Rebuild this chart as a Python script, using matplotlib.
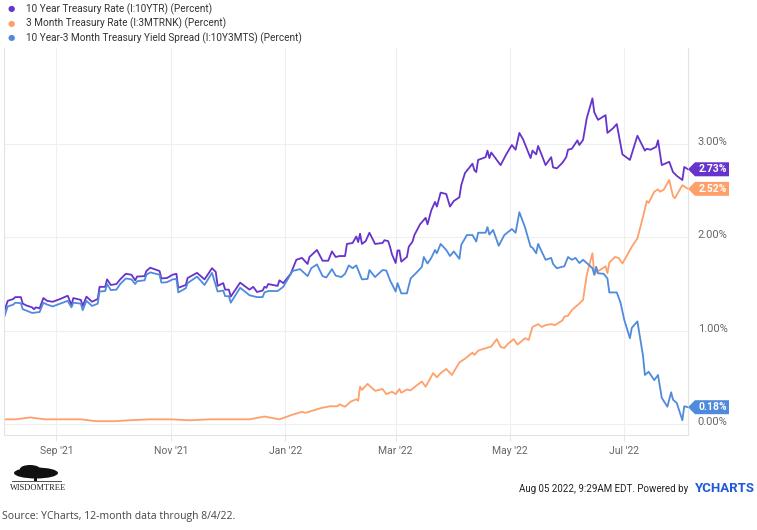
import matplotlib
matplotlib.use("Agg")
import matplotlib.pyplot as plt
import matplotlib.dates as mdates
from matplotlib.patches import Polygon, Ellipse, Rectangle
from matplotlib.transforms import IdentityTransform, ScaledTranslation
import pandas as pd

# Datos (días desde 2021-08-04, valores en %)
inicio = pd.Timestamp("2021-08-04")

dias_10y = [0, 2, 5, 6, 9, 10, 12, 15, 16, 17, 19, 21, 23, 26, 30, 34, 36, 37, 41, 42,
            44, 47, 50, 51, 54, 55, 57, 60, 62, 65, 68, 70, 71, 75, 76, 78, 83, 84, 87, 90,
            92, 93, 97, 98, 103, 107, 111, 113, 114, 117, 118, 120, 121, 126, 131, 133, 135, 138, 139, 140,
            141, 146, 147, 149, 153, 156, 159, 162, 163, 167, 170, 173, 175, 177, 179, 182, 183, 186, 188, 189,
            190, 191, 193, 195, 198, 202, 203, 205, 206, 207, 209, 210, 211, 212, 215, 216, 218, 219, 222, 225,
            226, 228, 230, 231, 233, 236, 238, 240, 243, 244, 246, 250, 251, 252, 253, 257, 258, 259, 260, 265,
            268, 271, 273, 275, 277, 281, 282, 284, 285, 287, 289, 292, 293, 295, 298, 300, 301, 303, 306, 307,
            309, 311, 314, 315, 317, 321, 322, 325, 327, 330, 334, 338, 340, 342, 343, 345, 348, 349, 351, 355,
            357, 359, 362, 363, 365]
tasa_10y = [1.20, 1.32, 1.34, 1.36, 1.36, 1.29, 1.27, 1.25, 1.23, 1.25, 1.24, 1.35, 1.32, 1.31, 1.34, 1.375, 1.275, 1.35, 1.33, 1.265,
            1.365, 1.31, 1.34, 1.47, 1.47, 1.55, 1.49, 1.50, 1.55, 1.61, 1.60, 1.54, 1.58, 1.585, 1.64, 1.675, 1.64, 1.56, 1.565, 1.60,
            1.61, 1.46, 1.49, 1.565, 1.62, 1.55, 1.67, 1.63, 1.48, 1.51, 1.44, 1.44, 1.365, 1.515, 1.44, 1.47, 1.415, 1.43, 1.47, 1.46,
            1.50, 1.48, 1.54, 1.51, 1.61, 1.76, 1.78, 1.715, 1.79, 1.865, 1.75, 1.75, 1.85, 1.79, 1.80, 1.80, 1.93, 1.94, 2.01, 1.95,
            2.04, 1.93, 1.96, 2.05, 1.93, 1.94, 1.97, 1.96, 1.90, 1.82, 1.725, 1.86, 1.86, 1.74, 1.79, 1.90, 1.955, 2.025, 2.14, 2.21,
            2.14, 2.29, 2.38, 2.33, 2.48, 2.465, 2.33, 2.39, 2.43, 2.56, 2.69, 2.79, 2.72, 2.70, 2.83, 2.86, 2.93, 2.85, 2.91, 2.775,
            2.89, 2.99, 2.94, 3.12, 3.05, 2.85, 2.93, 2.89, 2.98, 2.88, 2.775, 2.86, 2.75, 2.74, 2.80, 2.86, 2.94, 2.95, 3.04, 2.99,
            3.045, 3.28, 3.49, 3.34, 3.26, 3.31, 3.12, 3.17, 3.215, 2.89, 2.83, 3.09, 3.01, 2.93, 2.95, 2.94, 2.97, 3.04, 2.775, 2.81,
            2.70, 2.66, 2.615, 2.755, 2.73]

dias_3m = [0, 6, 14, 22, 30, 41, 49, 59, 67, 78, 89, 99, 110, 121, 131, 139, 147, 154, 159, 161,
           169, 174, 178, 179, 182, 185, 188, 189, 190, 191, 194, 198, 202, 204, 207, 209, 211, 212, 215, 217,
           220, 223, 225, 229, 231, 233, 236, 239, 243, 246, 250, 251, 253, 255, 260, 263, 265, 267, 269, 272,
           274, 278, 280, 282, 285, 287, 289, 292, 294, 298, 299, 301, 303, 305, 307, 309, 311, 314, 315, 316,
           318, 321, 322, 323, 326, 328, 330, 332, 335, 336, 338, 341, 343, 344, 347, 349, 350, 352, 355, 357,
           358, 362, 365]
tasa_3m = [0.05, 0.05, 0.07, 0.05, 0.05, 0.05, 0.03, 0.03, 0.04, 0.05, 0.05, 0.04, 0.05, 0.05, 0.05, 0.08, 0.05, 0.10, 0.13, 0.12,
           0.17, 0.19, 0.19, 0.21, 0.185, 0.24, 0.265, 0.25, 0.40, 0.365, 0.43, 0.355, 0.375, 0.32, 0.345, 0.32, 0.375, 0.335, 0.37, 0.36,
           0.41, 0.455, 0.40, 0.545, 0.50, 0.545, 0.59, 0.525, 0.66, 0.70, 0.765, 0.74, 0.785, 0.80, 0.83, 0.91, 0.825, 0.815, 0.86, 0.91,
           0.85, 0.92, 0.90, 1.04, 1.07, 1.04, 1.06, 1.07, 1.06, 1.11, 1.15, 1.16, 1.22, 1.257, 1.29, 1.33, 1.60, 1.83, 1.60, 1.63,
           1.65, 1.69, 1.615, 1.73, 1.79, 1.78, 1.72, 1.79, 1.90, 1.93, 1.99, 2.22, 2.39, 2.37, 2.49, 2.515, 2.49, 2.51, 2.615, 2.44,
           2.42, 2.56, 2.52]

dias_dif = [0, 2, 5, 6, 9, 10, 12, 15, 19, 21, 23, 26, 30, 34, 36, 37, 41, 42, 44, 47,
            50, 51, 54, 55, 57, 60, 62, 65, 68, 70, 71, 75, 76, 78, 83, 84, 87, 90, 92, 93,
            97, 98, 103, 107, 111, 114, 117, 118, 120, 121, 126, 131, 135, 138, 139, 141, 146, 149, 154, 158,
            162, 164, 167, 170, 172, 175, 177, 180, 182, 184, 186, 188, 191, 194, 195, 198, 202, 204, 206, 209,
            210, 212, 215, 217, 220, 223, 224, 226, 228, 230, 231, 233, 236, 238, 240, 243, 244, 247, 250, 252,
            253, 257, 258, 259, 261, 264, 267, 271, 273, 275, 278, 281, 282, 284, 285, 289, 292, 293, 295, 299,
            301, 303, 305, 307, 309, 311, 314, 315, 316, 317, 320, 322, 323, 327, 329, 331, 334, 335, 338, 341,
            342, 344, 347, 349, 351, 354, 356, 357, 359, 362, 363, 365]
dif_10y3m = [1.14, 1.26, 1.28, 1.30, 1.295, 1.23, 1.215, 1.19, 1.20, 1.30, 1.28, 1.26, 1.29, 1.32, 1.25, 1.30, 1.29, 1.22, 1.32, 1.265,
             1.29, 1.42, 1.425, 1.50, 1.435, 1.44, 1.50, 1.56, 1.55, 1.50, 1.53, 1.54, 1.60, 1.625, 1.60, 1.515, 1.52, 1.55, 1.555, 1.41,
             1.455, 1.51, 1.58, 1.49, 1.62, 1.42, 1.43, 1.37, 1.37, 1.30, 1.46, 1.38, 1.36, 1.36, 1.41, 1.425, 1.425, 1.47, 1.64, 1.66,
             1.585, 1.67, 1.71, 1.585, 1.57, 1.66, 1.59, 1.575, 1.61, 1.70, 1.67, 1.70, 1.55, 1.555, 1.65, 1.575, 1.65, 1.645, 1.54, 1.42,
             1.51, 1.40, 1.40, 1.56, 1.62, 1.685, 1.79, 1.72, 1.78, 1.865, 1.83, 1.93, 1.865, 1.80, 1.85, 1.77, 1.92, 2.025, 2.025, 1.955,
             2.05, 2.05, 2.11, 2.03, 2.08, 1.91, 2.025, 2.09, 2.05, 2.27, 2.11, 1.90, 1.89, 1.83, 1.93, 1.76, 1.78, 1.715, 1.67, 1.69,
             1.79, 1.76, 1.78, 1.725, 1.76, 1.725, 1.67, 1.60, 1.685, 1.615, 1.61, 1.56, 1.41, 1.41, 1.30, 1.115, 0.92, 1.03, 1.10, 0.73,
             0.525, 0.56, 0.47, 0.525, 0.28, 0.185, 0.34, 0.26, 0.225, 0.04, 0.19, 0.18]

series = [
    ("10 Year Treasury Rate (I:10YTR) (Percent)", dias_10y, tasa_10y, "#6633cc", "2.73%"),
    ("3 Month Treasury Rate (I:3MTRNK) (Percent)", dias_3m, tasa_3m, "#ffa06a", "2.52%"),
    ("10 Year-3 Month Treasury Yield Spread (I:10Y3MTS) (Percent)", dias_dif, dif_10y3m, "#4f8bdc", "0.18%"),
]

plt.rcParams['font.family'] = ['Roboto', 'DejaVu Sans']

fig = plt.figure(figsize=(7.57, 5.30), dpi=100)
ax = fig.add_axes([4 / 757, 1 - 435 / 530, 684 / 757, 387 / 530])

for nombre, dias, vals, color, etiqueta in series:
    fechas = inicio + pd.to_timedelta(dias, unit="D")
    ax.plot(fechas, vals, color=color, lw=1.3, solid_joinstyle="round")

ax.set_xlim(inicio, inicio + pd.Timedelta(days=365))
ax.set_ylim(-0.118, 4.03)
ax.xaxis.set_major_locator(mdates.MonthLocator(bymonth=[1, 3, 5, 7, 9, 11]))
ax.xaxis.set_major_formatter(mdates.DateFormatter("%b '%y"))
ax.yaxis.tick_right()
ax.set_yticks([0, 1, 2, 3])
ax.set_yticklabels(["0.00%", "1.00%", "2.00%", "3.00%"])
ax.tick_params(axis="y", length=0, pad=7, labelsize=8, labelcolor="#666666")
ax.tick_params(axis="x", length=4, color="#e6e6e6", pad=4, labelsize=7.5, labelcolor="#666666")
# etiquetas del eje y un poco por encima de la rejilla
for lbl in ax.get_yticklabels():
    lbl.set_transform(lbl.get_transform() + ScaledTranslation(0, 3 / 100, fig.dpi_scale_trans))
ax.grid(True, color="#efefef", lw=0.8)
ax.set_axisbelow(True)
for lado in ["left", "right", "bottom"]:
    ax.spines[lado].set_color("#e3e3e3")
    ax.spines[lado].set_linewidth(0.8)
ax.spines["top"].set_visible(False)

# Etiquetas de último valor con forma de flecha
fig.canvas.draw()
for nombre, dias, vals, color, etiqueta in series:
    fx, fy = ax.transData.transform((mdates.date2num(inicio + pd.Timedelta(days=dias[-1])), vals[-1]))
    h = 7
    pts = [(fx, fy), (fx + 7, fy + h), (fx + 41, fy + h), (fx + 41, fy - h), (fx + 7, fy - h)]
    fig.add_artist(Polygon(pts, closed=True, fc=color, ec="none", transform=IdentityTransform()))
    fig.text((fx + 25) / 757, fy / 530, etiqueta, color="white", fontsize=7.5,
             fontweight="bold", ha="center", va="center")

# Leyenda
for i, (nombre, dias, vals, color, etiqueta) in enumerate(series):
    y = 1 - (9 + 14.5 * i) / 530
    fig.text(8 / 757, y, "●", color=color, fontsize=6, ha="left", va="center")
    fig.text(26 / 757, y, nombre, color="#333333", fontsize=7.2, ha="left", va="center")

# Logo WisdomTree (aproximado)
fig.add_artist(Ellipse((36 / 757, 1 - 473 / 530), 44 / 757, 11 / 530, fc="#111111", ec="none"))
fig.add_artist(Ellipse((30 / 757, 1 - 469 / 530), 20 / 757, 8 / 530, fc="#111111", ec="none"))
fig.add_artist(Rectangle((34 / 757, 1 - 482 / 530), 3 / 757, 8 / 530, fc="#111111", ec="none"))
fig.add_artist(Rectangle((12 / 757, 1 - 482 / 530), 50 / 757, 1.2 / 530, fc="#555555", ec="none"))
fig.text(10 / 757, 1 - 488 / 530, "WISDOMTREE", family=["Liberation Serif", "DejaVu Serif"],
         fontsize=6, color="#222222", ha="left", va="center")

fig.text(688 / 757, 1 - 489 / 530, "Aug 05 2022, 9:29AM EDT. Powered by", fontsize=7,
         color="#222222", ha="right", va="center")
fig.text(755 / 757, 1 - 489 / 530, "YCHARTS", fontsize=9.5, color="#1d5ad8",
         fontweight="bold", ha="right", va="center")

fig.text(2 / 757, 1 - 517 / 530, "Source: YCharts, 12-month data through 8/4/22.",
         family=["Open Sans", "DejaVu Sans"], fontsize=7.5, color="#444444", ha="left", va="center")

fig.savefig("out.png", dpi=100)
